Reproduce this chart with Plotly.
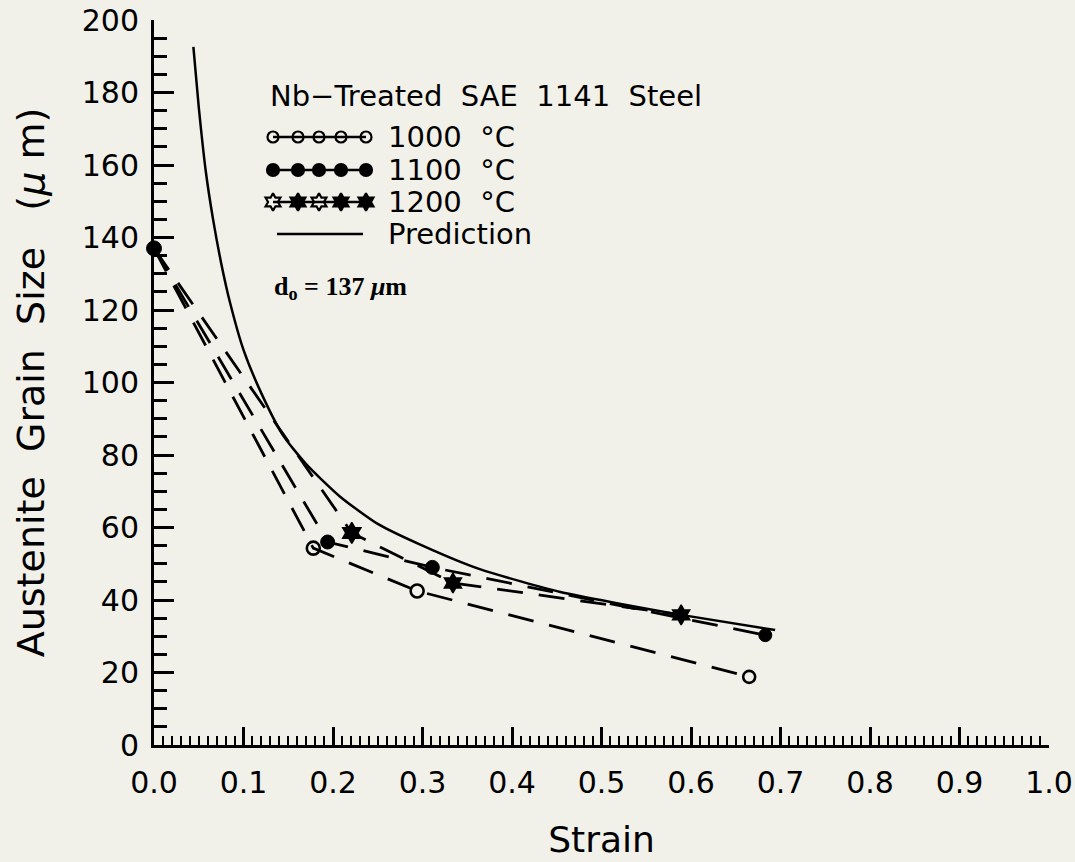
import plotly.graph_objects as go

# ---------------- data ----------------
d0 = 137  # initial grain size, um

strain_1000 = [0.0, 0.178, 0.294, 0.665]
size_1000 = [d0, 54.3, 42.5, 18.8]

strain_1100 = [0.0, 0.194, 0.311, 0.683]
size_1100 = [d0, 56.0, 49.0, 30.3]

strain_1200 = [0.0, 0.221, 0.334, 0.589]
size_1200 = [d0, 58.5, 44.7, 35.9]

pred_strain = [0.044, 0.05, 0.058, 0.066, 0.075, 0.085, 0.10, 0.12, 0.144, 0.17,
               0.208, 0.25, 0.30, 0.364, 0.454, 0.52, 0.589, 0.694]
pred_size = [192.6, 176, 158, 145, 133, 122, 109, 97, 85.5, 77.5,
             68.5, 61, 55, 48.5, 42.2, 39, 35.9, 31.7]

x_tickvals = [0.0, 0.1, 0.2, 0.3, 0.4, 0.5, 0.6, 0.7, 0.8, 0.9, 1.0]
x_ticktext = ["0.0", "0.1", "0.2", "0.3", "0.4", "0.5", "0.6", "0.7", "0.8", "0.9", "1.0"]
y_tickvals = [0, 20, 40, 60, 80, 100, 120, 140, 160, 180, 200]

legend_title = "Nb\u2212Treated  SAE  1141  Steel"
series_names = ["1000  \u00b0C", "1100  \u00b0C", "1200  \u00b0C", "Prediction"]
d0_label = "<b>d<sub>o</sub> = 137 <i>\u03bc</i>m</b>"

# ---------------- style ----------------
BG = "#f1f1ea"
FONT = "DejaVu Sans"
W, H = 1075, 862
L, R, T, B = 154, 26, 20, 117
DASH = "26px,16px"

fig = go.Figure()

# prediction
fig.add_trace(go.Scatter(x=pred_strain, y=pred_size, mode="lines",
                         line=dict(color="black", width=2.5, shape="spline", smoothing=0.6),
                         showlegend=False, hoverinfo="skip"))

# 1000 C: open circles (first point hidden; shared d0 point drawn by 1100 series)
fig.add_trace(go.Scatter(x=strain_1000, y=size_1000, mode="lines+markers",
                         line=dict(color="black", width=2.8, dash=DASH),
                         marker=dict(symbol="circle-open", size=[0, 13, 13, 12], opacity=1,
                                     color="black", line=dict(width=2.6, color="black")),
                         cliponaxis=False, showlegend=False))
# 1200 C: stars
fig.add_trace(go.Scatter(x=strain_1200, y=size_1200, mode="lines+markers",
                         line=dict(color="black", width=2.8, dash=DASH),
                         marker=dict(symbol=["circle", "hexagram", "hexagram", "hexagram-dot"],
                                     size=[0, 16, 15, 15], color="black", opacity=1,
                                     line=dict(width=1.5, color="black")),
                         cliponaxis=False, showlegend=False))
# 1100 C: filled circles
fig.add_trace(go.Scatter(x=strain_1100, y=size_1100, mode="lines+markers",
                         line=dict(color="black", width=2.8, dash=DASH),
                         marker=dict(symbol="circle", size=[15, 14, 14, 13], color="black",
                                     opacity=1, line=dict(width=1, color="black")),
                         cliponaxis=False, showlegend=False))

# ---------------- custom legend key (pixel frame on overlay axes) ----------------
key_x = [273, 298, 319, 341, 366]
key_rows_y = [137, 170, 202]
key_symbols = [
    ["circle-open"] * 5,
    ["circle"] * 5,
    ["hexagram-open", "hexagram", "hexagram-open", "hexagram", "hexagram"],
]
key_sizes = [11, 12, 13]
for ry, syms, sz in zip(key_rows_y, key_symbols, key_sizes):
    fig.add_trace(go.Scatter(x=key_x, y=[ry] * len(key_x), mode="lines+markers",
                             xaxis="x2", yaxis="y2",
                             line=dict(color="black", width=2.5),
                             marker=dict(symbol=syms, size=sz, color="black", opacity=1,
                                         line=dict(width=2.2, color="black")),
                             cliponaxis=False, showlegend=False, hoverinfo="skip"))
fig.add_trace(go.Scatter(x=[277, 363], y=[234, 234], mode="lines", xaxis="x2", yaxis="y2",
                         line=dict(color="black", width=2.5),
                         showlegend=False, hoverinfo="skip"))

ann = []
ann.append(dict(x=268, y=96, xref="x2", yref="y2", text=legend_title, showarrow=False,
                xanchor="left", yanchor="middle", font=dict(family=FONT, size=29, color="black")))
for ry, name in zip(key_rows_y + [234], series_names):
    ann.append(dict(x=386, y=ry, xref="x2", yref="y2", text=name, showarrow=False,
                    xanchor="left", yanchor="middle", font=dict(family=FONT, size=29, color="black")))
ann.append(dict(x=272, y=288, xref="x2", yref="y2", text=d0_label, showarrow=False,
                xanchor="left", yanchor="middle",
                font=dict(family="Liberation Serif", size=26, color="black")))

axis_common = dict(showgrid=False, zeroline=False, showline=True, linecolor="black",
                   linewidth=3, ticks="inside", tickcolor="black", tickwidth=2.5,
                   tickfont=dict(family=FONT, size=30, color="black"), mirror=False)

fig.update_layout(
    width=W, height=H, paper_bgcolor=BG, plot_bgcolor=BG,
    margin=dict(l=L, r=R, t=T, b=B, autoexpand=False),
    annotations=ann,
    xaxis=dict(range=[0, 1], tickvals=x_tickvals, ticktext=x_ticktext, ticklen=18,
               minor=dict(dtick=0.01, tick0=0, ticks="inside", ticklen=9,
                          tickwidth=2, tickcolor="black"),
               title=dict(text="Strain", font=dict(family=FONT, size=36, color="black"),
                          standoff=28),
               ticklabelstandoff=9,
               **axis_common),
    yaxis=dict(range=[0, 200], tickvals=y_tickvals, ticklen=20,
               minor=dict(dtick=5, tick0=0, ticks="inside", ticklen=13,
                          tickwidth=2.5, tickcolor="black"),
               title=dict(text="Austenite  Grain  Size   (<i>\u03bc</i> m)",
                          font=dict(family=FONT, size=38, color="black"), standoff=26),
               ticklabelstandoff=6,
               **axis_common),
    xaxis2=dict(range=[L, W - R], overlaying="x", anchor="y2", visible=False),
    yaxis2=dict(range=[H - B, T], overlaying="y", anchor="x2", visible=False),
)

fig.write_html("out.html")
